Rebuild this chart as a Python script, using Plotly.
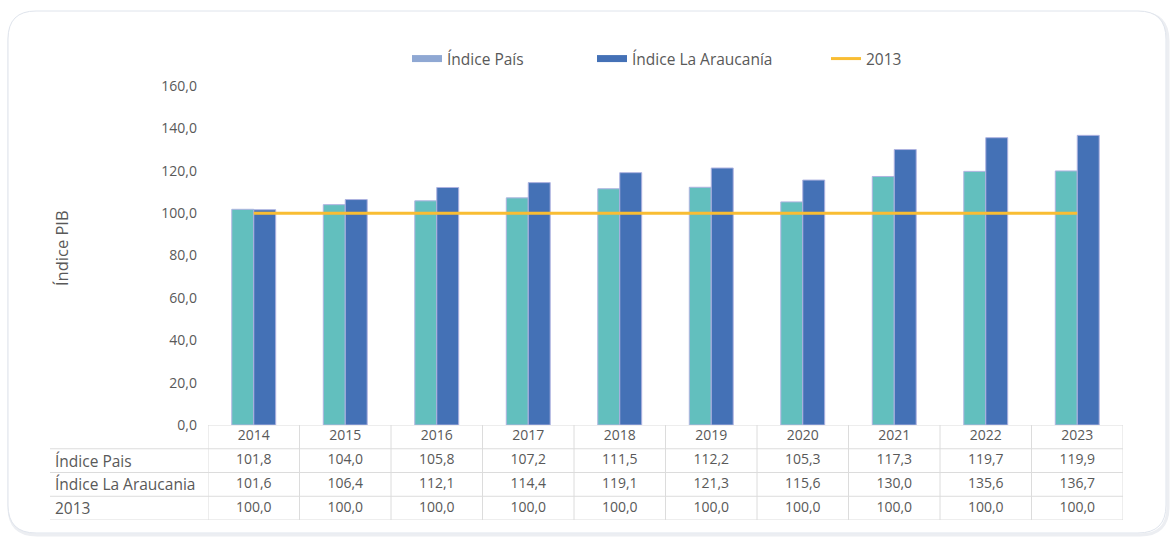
import plotly.graph_objects as go

# datos del gráfico
anios = ["2014", "2015", "2016", "2017", "2018", "2019", "2020", "2021", "2022", "2023"]
indice_pais = [101.8, 104.0, 105.8, 107.2, 111.5, 112.2, 105.3, 117.3, 119.7, 119.9]
indice_araucania = [101.6, 106.4, 112.1, 114.4, 119.1, 121.3, 115.6, 130.0, 135.6, 136.7]
base_2013 = [100.0] * 10

filas_tabla = ["Índice Pais", "Índice La Araucania", "2013"]

W, H = 1172, 539
GRIS = "#595959"
FUENTE = "'Open Sans', sans-serif"
C_PAIS = "#62bfbe"
C_ARAUC = "#4471b6"
C_2013 = "#f9bd33"
C_BORDE = "#aeb3e0"
C_LINEA_TABLA = "#dcdcdc"


def px(x):
    return x / W


def py(y):
    return 1 - y / H


def fmt(v):
    return f"{v:.1f}".replace(".", ",")


def rounded_rect(l, t, r, b, rad):
    # rectangulo redondeado en coordenadas paper
    pts = [
        f"M{px(l + rad)},{py(t)}",
        f"L{px(r - rad)},{py(t)}",
        f"Q{px(r)},{py(t)} {px(r)},{py(t + rad)}",
        f"L{px(r)},{py(b - rad)}",
        f"Q{px(r)},{py(b)} {px(r - rad)},{py(b)}",
        f"L{px(l + rad)},{py(b)}",
        f"Q{px(l)},{py(b)} {px(l)},{py(b - rad)}",
        f"L{px(l)},{py(t + rad)}",
        f"Q{px(l)},{py(t)} {px(l + rad)},{py(t)}",
        "Z",
    ]
    return " ".join(pts)


fig = go.Figure()

fig.add_trace(
    go.Bar(
        x=anios,
        y=indice_pais,
        name="Índice País",
        marker=dict(color=C_PAIS, line=dict(color=C_BORDE, width=1)),
        showlegend=False,
        hoverinfo="skip",
    )
)
fig.add_trace(
    go.Bar(
        x=anios,
        y=indice_araucania,
        name="Índice La Araucanía",
        marker=dict(color=C_ARAUC, line=dict(color=C_BORDE, width=1)),
        showlegend=False,
        hoverinfo="skip",
    )
)
fig.add_trace(
    go.Scatter(
        x=anios,
        y=base_2013,
        mode="lines",
        name="2013",
        line=dict(color=C_2013, width=3),
        legend="legend3",
        hoverinfo="skip",
    )
)

# entradas de leyenda con muestras anchas
fig.add_trace(
    go.Scatter(
        x=[None], y=[None], mode="lines", name="Índice País",
        line=dict(color="#8fa8d3", width=7), legend="legend",
    )
)
fig.add_trace(
    go.Scatter(
        x=[None], y=[None], mode="lines", name="Índice La Araucanía",
        line=dict(color=C_ARAUC, width=7), legend="legend2",
    )
)

# tabla de datos bajo el gráfico
filas_valores = [anios, [fmt(v) for v in indice_pais],
                 [fmt(v) for v in indice_araucania], [fmt(v) for v in base_2013]]
for i, textos in enumerate(filas_valores):
    fig.add_trace(
        go.Scatter(
            x=anios,
            y=[3.5 - i] * len(anios),
            yaxis="y2",
            mode="text",
            text=textos,
            textfont=dict(family=FUENTE, size=14, color=GRIS),
            showlegend=False,
            hoverinfo="skip",
        )
    )

shapes = [
    dict(type="path", xref="paper", yref="paper", path=rounded_rect(9, 13, 1168, 535, 28),
         line=dict(color="#eceef2", width=3), fillcolor="rgba(0,0,0,0)", layer="below"),
    dict(type="path", xref="paper", yref="paper", path=rounded_rect(8, 11, 1166, 533, 28),
         line=dict(color="#dfe4ec", width=1), fillcolor="white", layer="below"),
]
# lineas horizontales de la tabla
shapes.append(dict(type="line", xref="paper", yref="y2", x0=px(208), x1=px(1123), y0=4, y1=4,
                   line=dict(color=C_LINEA_TABLA, width=1)))
for yy in [3, 2, 1, 0]:
    shapes.append(dict(type="line", xref="paper", yref="y2", x0=px(50), x1=px(1123), y0=yy, y1=yy,
                       line=dict(color=C_LINEA_TABLA, width=1)))
# lineas verticales
for k in range(len(anios) + 1):
    shapes.append(dict(type="line", xref="x", yref="y2", x0=k - 0.5, x1=k - 0.5, y0=0, y1=4,
                       line=dict(color=C_LINEA_TABLA, width=1)))

annotations = [
    dict(text="Índice PIB", xref="paper", yref="paper", x=px(61), y=py(248),
         xanchor="center", yanchor="middle",
         textangle=-90, showarrow=False, font=dict(family=FUENTE, size=16.5, color=GRIS)),
]
for i, nombre in enumerate(filas_tabla):
    annotations.append(
        dict(text=nombre, xref="paper", yref="y2", x=px(53), y=2.5 - i, xanchor="left",
             showarrow=False, font=dict(family=FUENTE, size=15.5, color=GRIS))
    )

leg_common = dict(orientation="h", yanchor="middle", y=py(59), xanchor="left",
                  font=dict(family=FUENTE, size=15.5, color=GRIS), bgcolor="rgba(0,0,0,0)")

fig.update_layout(
    width=W,
    height=H,
    margin=dict(l=0, r=0, t=0, b=0, autoexpand=False),
    paper_bgcolor="white",
    plot_bgcolor="rgba(0,0,0,0)",
    separators=",.",
    barmode="group",
    bargap=0.52,
    bargroupgap=0,
    font=dict(family=FUENTE, color=GRIS),
    xaxis=dict(type="category", categoryorder="array", categoryarray=anios,
               domain=[px(208), px(1123)], range=[-0.5, 9.5], automargin=False,
               showticklabels=False, showgrid=False, zeroline=False, showline=False),
    yaxis=dict(domain=[py(425), py(86)], range=[0, 160], dtick=20, tickformat=".1f",
               showgrid=False, zeroline=False, showline=False, ticks="", automargin=False,
               ticklabelstandoff=10, tickfont=dict(family=FUENTE, size=14, color=GRIS)),
    yaxis2=dict(domain=[py(520), py(425)], range=[0, 4], visible=False, anchor="x",
                automargin=False),
    legend=dict(x=px(407), **leg_common),
    legend2=dict(x=px(592), **leg_common),
    legend3=dict(x=px(826), **leg_common),
    shapes=shapes,
    annotations=annotations,
)

fig.write_html(
    "out.html",
    config={"displayModeBar": False},
    post_script="document.body.style.margin='0';document.body.style.overflow='hidden';",
)
